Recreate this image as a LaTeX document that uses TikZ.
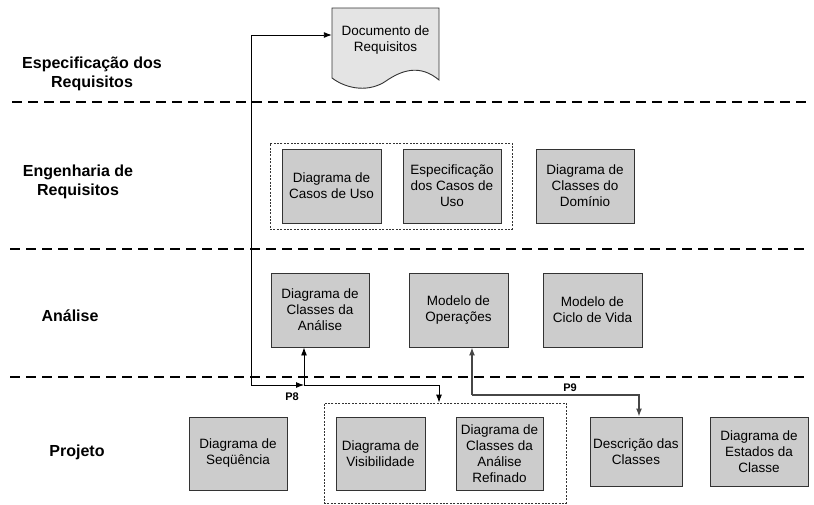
\documentclass[tikz,border=0pt]{standalone}
\usepackage{fontspec}
\setmainfont{Liberation Sans}
\usetikzlibrary{arrows.meta}
\definecolor{boxfill}{HTML}{CCCCCC}
\definecolor{docfill}{HTML}{E4E4E4}
\definecolor{edge}{HTML}{333333}
\begin{document}
\begin{tikzpicture}[x=1pt,y=-1pt,
  phase/.style={font=\fontsize{16}{19}\selectfont\bfseries, align=center},
  artefact/.style={draw=edge, line width=0.9pt, fill=boxfill, align=center,
    font=\fontsize{13.5}{16}\selectfont, inner sep=2pt},
  group/.style={draw=edge, line width=0.8pt, dash pattern=on 2pt off 1.4pt},
  lane/.style={line width=1.8pt, dash pattern=on 10pt off 6pt},
  flow/.style={draw=black, line width=0.9pt, -{Latex[length=8pt,width=6pt]}},
  flowgray/.style={draw=gray!55!black, line width=1.3pt, -{Latex[length=8pt,width=6pt]}},
  tag/.style={font=\fontsize{11}{13}\selectfont\bfseries}
]
\useasboundingbox (0,0) rectangle (814,504);

% swimlane separators
\draw[lane] (12,102) -- (810,102);
\draw[lane] (10,249) -- (810,249);
\draw[lane] (10,377) -- (810,377);

% phase labels
\node[phase] (lbEsp) at (92,74) {Especificação dos\\Requisitos};
\node[phase] (lbEng) at (78,182) {Engenharia de\\Requisitos};
\node[phase] (lbAna) at (70,316) {Análise};
\node[phase] (lbPro) at (77,452) {Projeto};

% requirements document (wavy bottom)
\fill[docfill, draw=edge, line width=0.9pt]
  (332,8) -- (439,8) -- (439,80)
  .. controls (420,64) and (402,70) .. (386,81)
  .. controls (370,92) and (348,90) .. (332,78) -- cycle;
\node[font=\fontsize{13.5}{16}\selectfont, align=center, minimum width=107pt, minimum height=40pt] (doc) at (385.5,40) {Documento de\\Requisitos};

% requirements engineering
\node[group, minimum width=242pt, minimum height=86pt] (engbox) at (391,186) {};
\node[artefact, minimum width=99pt, minimum height=74pt] (casos) at (331.5,186) {Diagrama de\\Casos de Uso};
\node[artefact, minimum width=98pt, minimum height=74pt] (espec) at (452,186) {Especificação\\dos Casos de\\Uso};
\node[artefact, minimum width=98pt, minimum height=74pt] (dominio) at (585,186) {Diagrama de\\Classes do\\Domínio};

% analysis
\node[artefact, minimum width=98pt, minimum height=74pt] (classes) at (320,310) {Diagrama de\\Classes da\\Análise};
\node[artefact, minimum width=99pt, minimum height=74pt] (operacoes) at (458.5,310) {Modelo de\\Operações};
\node[artefact, minimum width=99pt, minimum height=74pt] (ciclo) at (592.5,310) {Modelo de\\Ciclo de Vida};

% design
\node[group, minimum width=242pt, minimum height=100pt] (projbox) at (445,453) {};
\node[artefact, minimum width=98pt, minimum height=73pt] (sequencia) at (238,453.5) {Diagrama de\\Seqüência};
\node[artefact, minimum width=89pt, minimum height=73pt] (visib) at (380.5,453.5) {Diagrama de\\Visibilidade};
\node[artefact, minimum width=87pt, minimum height=73pt] (refinado) at (499.5,453.5) {Diagrama de\\Classes da\\Análise\\Refinado};
\node[artefact, minimum width=92pt, minimum height=69pt] (descricao) at (636,451.5) {Descrição das\\Classes};
\node[artefact, minimum width=98pt, minimum height=69pt] (estados) at (759,451.5) {Diagrama de\\Estados da\\Classe};

% P8 junction
\coordinate (p8) at (304,385);
\coordinate (p8in) at (251,385);
\draw[flow] (p8in) |- ([yshift=5pt]doc.west);
\draw[flow] (p8in) -- (p8);
\draw[flow] (p8) -- (p8 |- classes.south);
\draw[flow] (p8) -| ([xshift=-6pt]projbox.north);
\node[tag] (lbP8) at (292,397) {P8};

% P9 junction
\coordinate (p9) at (472,395);
\draw[flowgray] (p9) -- (p9 |- operacoes.south);
\draw[flowgray] (p9) -| ([xshift=3pt]descricao.north);
\node[tag] (lbP9) at (570,388) {P9};
\end{tikzpicture}
\end{document}
